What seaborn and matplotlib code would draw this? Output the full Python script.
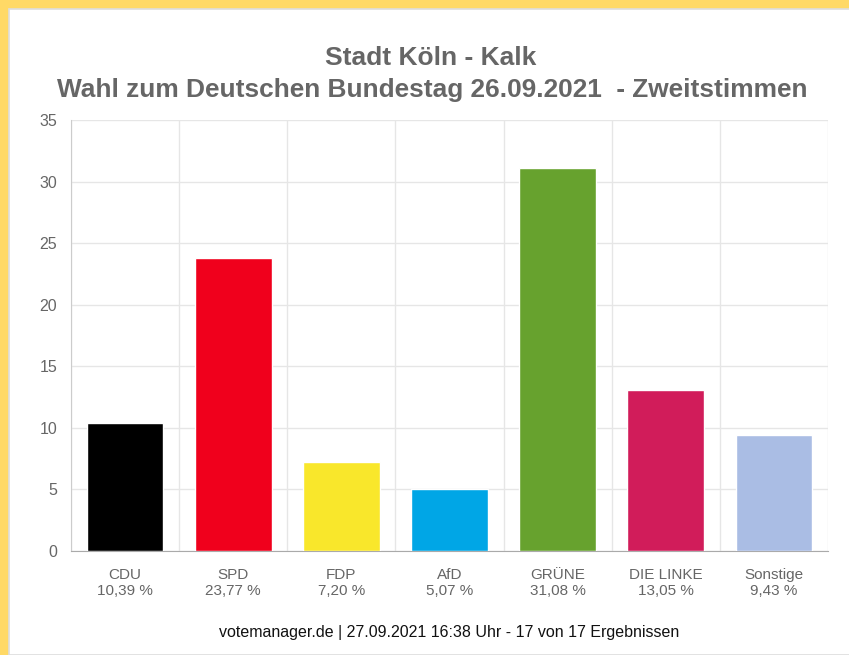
import numpy as np
import pandas as pd
import seaborn as sns
import matplotlib.pyplot as plt
from matplotlib.patches import Rectangle

parteien = ["CDU", "SPD", "FDP", "AfD", "GRÜNE", "DIE LINKE", "Sonstige"]
anteile = [10.39, 23.77, 7.20, 5.07, 31.08, 13.05, 9.43]
farben = ["#000000", "#f0001c", "#f9e72b", "#00a6e6", "#67a22e", "#d11c5a", "#aabde4"]

df = pd.DataFrame({"partei": parteien, "anteil": anteile})
labels = [f"{p}\n{str(f'{a:.2f}').replace('.', ',')} %" for p, a in zip(parteien, anteile)]

sns.set_style("white")
plt.rcParams["font.family"] = ["Liberation Sans", "DejaVu Sans"]

fig = plt.figure(figsize=(8.49, 6.55), dpi=100)
fig.patch.set_facecolor("#ffd966")
# white panel with thin grey border
fig.patches.append(Rectangle((9 / 849, 0), 1, 1 - 9 / 655, transform=fig.transFigure,
                             facecolor="white", edgecolor="#dddddd", linewidth=1.2,
                             zorder=-5))

ax = fig.add_axes([71 / 849, 104 / 655, 757 / 849, 431 / 655])
ax.set_facecolor("none")

sns.barplot(data=df, x="partei", y="anteil", hue="partei", palette=farben,
            legend=False, width=0.71, ax=ax, zorder=3, saturation=1)

ax.set_xlim(-0.5, len(parteien) - 0.5)
ax.set_ylim(0, 35)
ax.set_yticks(np.arange(0, 36, 5))
ax.set_xticks(np.arange(len(parteien)))
ax.set_xticklabels(labels, color="#666666", fontsize=11, linespacing=1.2)
ax.set_xticks(np.arange(-0.5, len(parteien)), minor=True)

ax.grid(axis="y", color="#e6e6e6", linewidth=1, zorder=0)
ax.grid(axis="x", which="minor", color="#e6e6e6", linewidth=1, zorder=0)
ax.tick_params(axis="x", which="major", length=0, pad=12)
ax.tick_params(axis="x", which="minor", length=12, color="#e0e0e0", width=1)
ax.tick_params(axis="y", length=9, color="#e0e0e0", labelcolor="#666666",
               labelsize=11.5, pad=1)

for s in ["top", "right"]:
    ax.spines[s].set_visible(False)
ax.spines["left"].set_color("#cccccc")
ax.spines["bottom"].set_color("#aaaaaa")
ax.set_xlabel("")
ax.set_ylabel("")

fig.text(431 / 849, 1 - 58 / 655, "Stadt Köln - Kalk", ha="center", va="center",
         fontsize=19, fontweight="bold", color="#666666")
fig.text(432 / 849, 1 - 90 / 655, "Wahl zum Deutschen Bundestag 26.09.2021  - Zweitstimmen",
         ha="center", va="center", fontsize=18.9, fontweight="bold", color="#666666")
fig.text(449 / 849, 1 - 632 / 655, "votemanager.de | 27.09.2021 16:38 Uhr - 17 von 17 Ergebnissen",
         ha="center", va="center", fontsize=11.5, color="#111111")

fig.savefig("out.png", dpi=100)
